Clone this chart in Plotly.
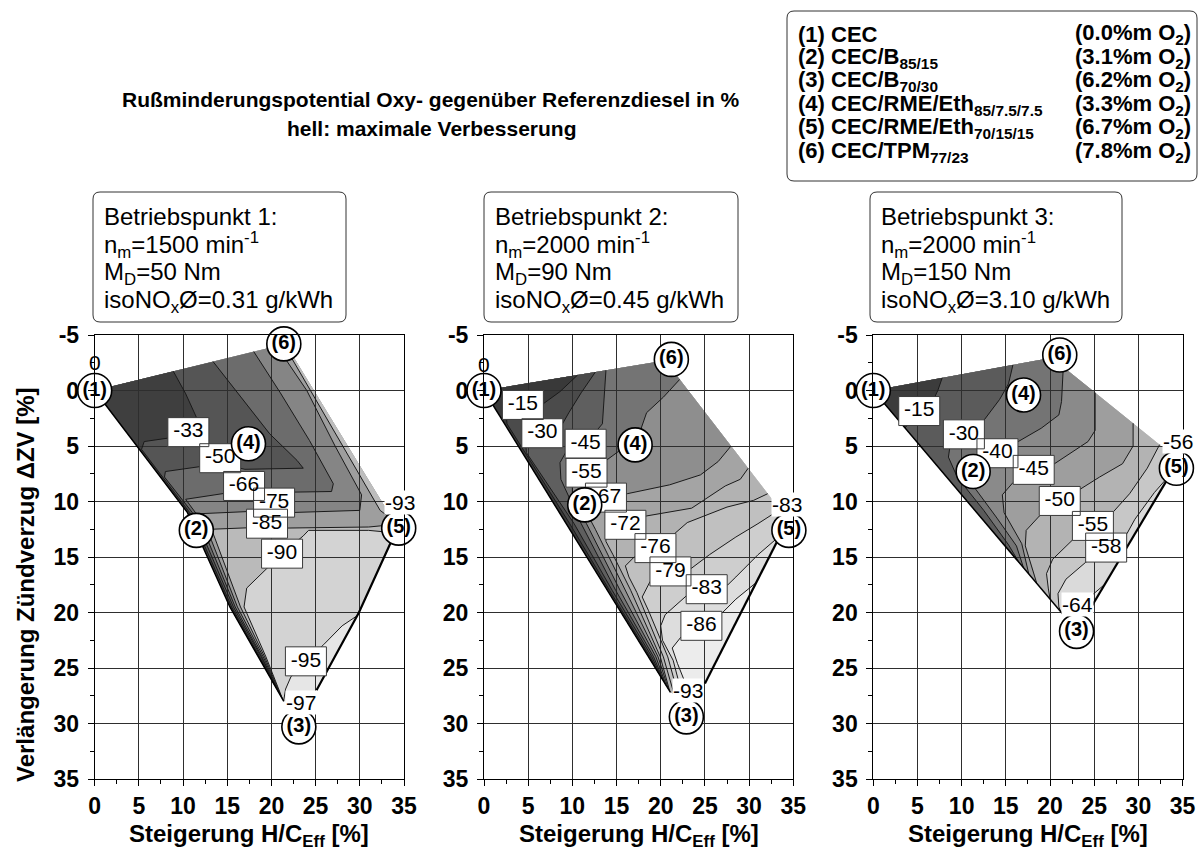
import plotly.graph_objects as go

W, H = 1201, 851
FONT = "Liberation Sans, Arial, Helvetica, sans-serif"

# ---------------------------------------------------------------
# data
# x = Steigerung H/C_Eff [%], y = Verlängerung Zündverzug dZV [%]
# outlines start at fuel (1), go over (6), (5), (3) and back
# contour lines run from the upper/right border to the left border
# ---------------------------------------------------------------

# Betriebspunkt 1
bp1_edge = [(0, 0), (21.6, -4.2), (33.4, 11.2), (34.3, 12.3), (29.9, 20.0), (25.1, 27.0),
            (23.3, 28.5), (21.4, 28.0), (15.3, 19.5), (10.5, 11.0)]
bp1_m95 = [(29.7, 20.29), (28.0, 21.2), (25.9, 22.9), (23.9, 24.4), (22.2, 25.8), (21.6, 26.9), (21.38, 27.97)]
bp1_m90 = [(34.0, 12.83), (31.0, 12.6), (24.2, 12.6), (23.6, 13.1), (21.2, 14.7), (19.8, 15.8), (17.2, 17.8),
           (16.9, 19.5), (19.38, 24.0), (21.28, 27.83)]
bp1_m85 = [(34.1, 12.06), (31.0, 12.3), (21.0, 12.4), (19.5, 12.3), (13.2, 12.5), (13.6, 13.3), (16.5, 19.5),
           (19.23, 24.0), (21.15, 27.65)]
bp1_m75 = [(20.6, -4.0), (24.0, 0.0), (27.2, 5.0), (30.2, 9.4), (30.0, 10.8), (22.0, 11.0), (20.3, 10.8),
           (11.9, 11.1), (13.21, 13.5), (16.15, 19.5), (19.08, 24.0), (21.0, 27.44)]
bp1_m66 = [(18.0, -3.5), (21.0, 0.2), (24.3, 4.5), (27.0, 8.4), (26.8, 9.1), (19.0, 9.2), (16.9, 9.0),
           (10.3, 9.8), (10.75, 10.3), (11.4, 11.0), (12.81, 13.5), (15.9, 19.5), (18.93, 24.0), (20.8, 27.16)]
bp1_m50 = [(13.4, -2.6), (16.6, 0.6), (19.8, 3.9), (22.9, 6.3), (23.6, 7.0), (17.0, 7.1), (14.2, 6.6),
           (8.0, 7.3), (7.9, 7.8), (11.05, 11.0), (12.46, 13.5), (15.7, 19.5), (18.83, 24.0), (20.6, 26.89)]
bp1_m33 = [(8.9, -1.73), (10.3, 0.3), (11.5, 2.4), (11.0, 4.0), (8.2, 4.3), (5.6, 4.6), (5.3, 5.3),
           (10.75, 11.0), (12.16, 13.5), (15.5, 19.5), (18.68, 24.0), (20.4, 26.61)]
bp1_m93 = [(21.3, -4.14), (22.3, -2.9), (32.3, 10.8), (33.8, 11.7)]   # light strip along the right border
bp1_lab_txt = ["-33", "-50", "-66", "-75", "-85", "-90", "-95"]
bp1_lab_x = [10.6, 14.2, 16.9, 20.3, 19.5, 21.2, 23.9]
bp1_lab_y = [3.75, 6.1, 8.6, 10.1, 12.0, 14.7, 24.4]
bp1_end_txt = ["-93", "-97", "0"]
bp1_end_x = [34.5, 23.35, 0.0]
bp1_end_y = [10.1, 28.1, -2.5]
bp1_pt_x = [0, 11.5, 23.1, 17.4, 34.4, 21.4]
bp1_pt_y = [0, 12.6, 30.3, 4.8, 12.4, -4.2]

# Betriebspunkt 2
bp2_edge = [(0, 0), (20.5, -2.7), (32.6, 9.8), (34.0, 12.3), (25.0, 26.4), (23.0, 27.8), (21.1, 27.2)]
bp2_m86 = [(30.8, 17.31), (28.5, 18.8), (27.0, 20.0), (24.6, 21.2), (22.3, 22.2), (21.3, 23.2), (21.9, 24.6),
           (22.8, 26.4), (23.5, 27.45)]
bp2_m83 = [(33.5, 13.08), (31.0, 14.8), (28.5, 16.8), (27.6, 17.5), (25.2, 17.9), (22.9, 18.5), (20.5, 20.2),
           (20.0, 21.2), (20.2, 22.5), (21.4, 24.3), (22.5, 27.64)]
bp2_m79 = [(33.2, 10.87), (31.0, 12.0), (28.5, 13.2), (25.5, 14.8), (23.5, 16.0), (21.1, 16.3), (18.8, 17.2),
           (17.9, 18.6), (18.6, 19.8), (20.8, 24.0), (22.0, 27.49)]
bp2_m76 = [(32.1, 9.3), (30.5, 9.9), (27.5, 10.5), (23.0, 11.9), (21.7, 12.8), (19.4, 14.2), (17.0, 15.0),
           (16.0, 15.8), (16.4, 16.8), (17.3, 18.2), (20.3, 24.0), (21.5, 27.33)]
bp2_m72 = [(29.9, 7.0), (29.0, 8.0), (27.3, 8.6), (23.5, 10.6), (18.4, 11.3), (16.0, 12.1), (13.8, 12.6),
           (13.8, 13.6), (14.6, 14.8), (16.6, 18.0), (19.95, 24.0), (21.02, 27.1)]
bp2_m67 = [(27.95, 5.0), (26.5, 6.4), (24.5, 7.6), (21.0, 8.5), (16.2, 9.3), (13.8, 9.65), (11.6, 10.2),
           (11.6, 11.0), (12.6, 12.5), (16.0, 18.0), (19.7, 24.0), (20.87, 26.9)]
bp2_m55 = [(22.15, -1.0), (20.3, 0.6), (18.4, 2.0), (17.7, 3.6), (16.6, 5.0), (15.2, 5.5), (14.0, 6.2),
           (11.6, 7.4), (10.0, 8.4), (10.0, 9.6), (11.6, 12.0), (15.4, 18.0), (19.45, 24.0), (20.63, 26.6)]
bp2_m45 = [(13.8, -1.82), (13.6, 0.5), (13.4, 3.0), (11.5, 4.8), (9.3, 5.5), (8.6, 6.5), (8.7, 8.0),
           (11.0, 12.0), (14.9, 18.0), (19.2, 24.0), (20.4, 26.3)]
bp2_m30 = [(12.6, -1.66), (11.0, 0.2), (9.6, 2.0), (8.6, 3.4), (6.6, 3.85), (4.7, 4.6), (4.8, 5.6),
           (10.2, 12.0), (14.5, 18.0), (19.0, 24.0), (20.17, 26.0)]
bp2_m15 = [(10.6, -1.4), (8.6, 0.1), (6.7, 1.2), (4.4, 1.3), (2.5, 2.0), (2.6, 3.0), (9.7, 12.0),
           (14.2, 18.0), (18.8, 24.0), (19.78, 25.5)]
bp2_lab_txt = ["-15", "-30", "-45", "-55", "-67", "-72", "-76", "-79", "-83", "-86"]
bp2_lab_x = [4.4, 6.6, 11.5, 11.6, 13.8, 16.0, 19.4, 21.1, 25.2, 24.6]
bp2_lab_y = [1.3, 3.85, 4.8, 7.4, 9.65, 12.1, 14.2, 16.3, 17.9, 21.2]
bp2_end_txt = ["-83", "-93", "0"]
bp2_end_x = [34.3, 23.1, 0.0]
bp2_end_y = [10.3, 27.0, -2.3]
bp2_pt_x = [0, 11.4, 22.9, 17.1, 34.5, 21.2]
bp2_pt_y = [0, 10.3, 29.4, 4.9, 12.6, -2.8]

# Betriebspunkt 3
bp3_edge = [(0, 0), (20.2, -2.95), (32.9, 5.2), (34.1, 6.9), (24.6, 19.6), (23.0, 20.4), (21.5, 20.2)]
bp3_m64 = [(26.2, 17.46), (24.8, 18.4), (23.1, 19.25), (22.2, 20.29)]
bp3_m58 = [(33.6, 7.57), (31.8, 9.2), (29.6, 11.6), (28.7, 12.9), (26.35, 14.15), (24.0, 15.5), (21.8, 17.0),
           (20.9, 18.3), (21.0, 19.5), (21.2, 19.92)]
bp3_m55 = [(32.4, 4.88), (31.0, 7.0), (29.0, 9.3), (27.2, 10.9), (24.85, 12.2), (22.5, 13.5), (20.3, 15.2),
           (19.6, 16.5), (19.8, 17.8), (20.0, 18.79)]
bp3_m50 = [(29.4, 2.95), (29.4, 5.0), (28.2, 6.6), (25.6, 7.8), (23.4, 8.9), (21.1, 9.95), (18.8, 11.3),
           (17.3, 12.6), (17.2, 14.0), (18.1, 16.2), (18.5, 17.38)]
bp3_m45 = [(25.1, 0.19), (25.1, 3.6), (24.3, 4.6), (22.0, 5.8), (20.5, 6.6), (18.15, 7.15), (15.8, 8.3),
           (14.6, 9.4), (14.8, 11.0), (16.8, 13.8), (17.6, 16.54)]
bp3_m40 = [(21.5, -2.12), (21.3, 1.0), (21.0, 2.2), (19.0, 3.4), (16.4, 4.6), (14.05, 5.65), (12.2, 6.5),
           (11.0, 7.6), (11.5, 8.8), (14.0, 11.5), (16.2, 14.0), (17.0, 15.97)]
bp3_m30 = [(15.8, -2.31), (15.3, -0.6), (14.3, 0.8), (12.5, 2.7), (10.25, 3.95), (8.7, 4.9), (8.5, 6.0),
           (9.5, 7.8), (12.5, 10.8), (15.3, 13.9), (16.5, 15.5)]
bp3_m15 = [(7.8, -1.14), (7.3, 0.0), (6.6, 1.2), (5.2, 1.85), (4.3, 2.6), (3.6, 3.38)]
bp3_lab_txt = ["-15", "-30", "-40", "-45", "-50", "-55", "-58"]
bp3_lab_x = [5.2, 10.25, 14.05, 18.15, 21.1, 24.85, 26.35]
bp3_lab_y = [1.85, 3.95, 5.65, 7.15, 9.95, 12.2, 14.15]
bp3_end_txt = ["-56", "-64", "0"]
bp3_end_x = [34.5, 23.1, -0.1]
bp3_end_y = [4.6, 19.25, -2.15]
bp3_pt_x = [0, 11.3, 23.0, 17.0, 34.3, 21.1]
bp3_pt_y = [0, 7.3, 21.7, 0.4, 7.0, -3.2]

# axis ticks
x_ticks = [0, 5, 10, 15, 20, 25, 30, 35]
y_ticks = [-5, 0, 5, 10, 15, 20, 25, 30, 35]
y_ticktext = ["-5", "0", "5", "10", "15", "20", "25", "30", "35"]

# texts
fuel_names = ["(1) CEC", "(2) CEC/B<sub>85/15</sub>", "(3) CEC/B<sub>70/30</sub>",
              "(4) CEC/RME/Eth<sub>85/7.5/7.5</sub>", "(5) CEC/RME/Eth<sub>70/15/15</sub>",
              "(6) CEC/TPM<sub>77/23</sub>"]
fuel_o2 = ["0.0", "3.1", "6.2", "3.3", "6.7", "7.8"]
bp_speed = [1500, 2000, 2000]
bp_torque = [50, 90, 150]
bp_nox = ["0.31", "0.45", "3.10"]
pt_txt = ["(1)", "(2)", "(3)", "(4)", "(5)", "(6)"]

# grey shades, lightest first (base, then darker bands)
bp1_shades = ["#e6e6e6", "#d3d3d3", "#bababa", "#9e9e9e", "#858585", "#6c6c6c", "#555555", "#3f3f3f"]
bp2_shades = ["#ececec", "#dddddd", "#cecece", "#c0c0c0", "#b2b2b2", "#a4a4a4", "#8e8e8e", "#747474",
              "#5f5f5f", "#4b4b4b", "#393939"]
bp3_shades = ["#e9e9e9", "#dadada", "#c7c7c7", "#b3b3b3", "#9e9e9e", "#8a8a8a", "#747474", "#5b5b5b", "#3c3c3c"]


def seg_index(ring, p):
    # index of the outline segment closest to p
    best, bi = 1e9, 0
    n = len(ring)
    for i in range(n):
        a, b = ring[i], ring[(i + 1) % n]
        dx, dy = b[0] - a[0], b[1] - a[1]
        t = ((p[0] - a[0]) * dx + (p[1] - a[1]) * dy) / (dx * dx + dy * dy)
        t = max(0.0, min(1.0, t))
        d = (a[0] + t * dx - p[0]) ** 2 + (a[1] + t * dy - p[1]) ** 2
        if d < best:
            best, bi = d, i
    return bi


def dark_side(ring, line):
    # area enclosed by the contour line and the outline through point (1)
    ia, ib = seg_index(ring, line[0]), seg_index(ring, line[-1])
    return list(line) + ring[ib + 1:] + ring[:ia + 1]


def far_side(ring, line):
    ia, ib = seg_index(ring, line[0]), seg_index(ring, line[-1])
    return list(line) + ring[ia + 1:ib + 1][::-1]


def svg_path(pts):
    return "M " + " L ".join(f"{x},{y}" for x, y in pts) + " Z"


def rbox(x0, y0, x1, y1, r=7):
    # rounded box given in pixels -> paper path
    a, c = x0 / W, x1 / W
    b, d = 1 - y0 / H, 1 - y1 / H
    rx, ry = r / W, r / H
    return (f"M {a+rx},{b} L {c-rx},{b} Q {c},{b} {c},{b-ry} L {c},{d+ry} Q {c},{d} {c-rx},{d} "
            f"L {a+rx},{d} Q {a},{d} {a},{d+ry} L {a},{b-ry} Q {a},{b} {a+rx},{b} Z")


panels = [
    dict(edge=bp1_edge, lines=[bp1_m95, bp1_m90, bp1_m85, bp1_m75, bp1_m66, bp1_m50, bp1_m33],
         shades=bp1_shades, strip=bp1_m93, strip_fill="#bdbdbd",
         left=bp1_edge[7:] + bp1_edge[:1], br=bp1_edge[3:6],
         lab=(bp1_lab_txt, bp1_lab_x, bp1_lab_y), end=(bp1_end_txt, bp1_end_x, bp1_end_y),
         pts=(bp1_pt_x, bp1_pt_y)),
    dict(edge=bp2_edge, lines=[bp2_m86, bp2_m83, bp2_m79, bp2_m76, bp2_m72, bp2_m67, bp2_m55, bp2_m45,
                               bp2_m30, bp2_m15],
         shades=bp2_shades, strip=None, strip_fill=None,
         left=bp2_edge[6:] + bp2_edge[:1], br=bp2_edge[3:5],
         lab=(bp2_lab_txt, bp2_lab_x, bp2_lab_y), end=(bp2_end_txt, bp2_end_x, bp2_end_y),
         pts=(bp2_pt_x, bp2_pt_y)),
    dict(edge=bp3_edge, lines=[bp3_m64, bp3_m58, bp3_m55, bp3_m50, bp3_m45, bp3_m40, bp3_m30, bp3_m15],
         shades=bp3_shades, strip=None, strip_fill=None,
         left=bp3_edge[6:] + bp3_edge[:1], br=bp3_edge[3:5],
         lab=(bp3_lab_txt, bp3_lab_x, bp3_lab_y), end=(bp3_end_txt, bp3_end_x, bp3_end_y),
         pts=(bp3_pt_x, bp3_pt_y)),
]

# pixel placement of the three plot areas
x_px = [(94.7, 404.0), (484.0, 793.3), (873.3, 1182.6)]
y_px = (335.0, 779.0)
box_px = [(93, 346), (484, 738), (870, 1122)]

fig = go.Figure()
shapes, anns = [], []

tickfont = dict(family=FONT, size=23, color="black", weight="bold")
axis_common = dict(showgrid=True, gridcolor="#2e2e2e", gridwidth=1,
                   showline=True, linecolor="black", linewidth=1, mirror=True,
                   ticks="outside", ticklen=6, tickcolor="black", tickfont=tickfont,
                   minor=dict(tickmode="linear", tick0=0, dtick=2.5, ticks="outside", ticklen=4,
                              tickcolor="black", showgrid=False),
                   zeroline=False, fixedrange=True, automargin=False)
axes = {}

for i, P in enumerate(panels):
    sfx = "" if i == 0 else str(i + 1)
    xr, yr = "x" + sfx, "y" + sfx
    axes["xaxis" + sfx] = dict(domain=[x_px[i][0] / W, x_px[i][1] / W], anchor=yr, range=[0, 35],
                               tickmode="array", tickvals=x_ticks, **axis_common)
    axes["yaxis" + sfx] = dict(domain=[1 - y_px[1] / H, 1 - y_px[0] / H], anchor=xr, range=[35, -5],
                               tickmode="array", tickvals=y_ticks, ticktext=y_ticktext,
                               ticklabelstandoff=4, **axis_common)
    # pixels per data unit, for the label boxes
    ux = (x_px[i][1] - x_px[i][0]) / 35.0
    uy = (y_px[1] - y_px[0]) / 40.0

    edge = P["edge"]
    polys = [(edge, P["shades"][0])]
    for line, col in zip(P["lines"], P["shades"][1:]):
        polys.append((dark_side(edge, line), col))
    if P["strip"]:
        polys.append((far_side(edge, P["strip"]), P["strip_fill"]))
    for poly, col in polys:
        shapes.append(dict(type="path", path=svg_path(poly), xref=xr, yref=yr, fillcolor=col,
                           line=dict(width=0), layer="below"))

    # contour lines
    all_lines = P["lines"] + ([P["strip"]] if P["strip"] else [])
    for line in all_lines:
        fig.add_trace(go.Scatter(x=[p[0] for p in line], y=[p[1] for p in line], mode="lines",
                                 line=dict(color="#1a1a1a", width=1), xaxis=xr, yaxis=yr,
                                 hoverinfo="skip"))
    # outline borders
    fig.add_trace(go.Scatter(x=[p[0] for p in P["left"]], y=[p[1] for p in P["left"]], mode="lines",
                             line=dict(color="black", width=1.5), xaxis=xr, yaxis=yr, hoverinfo="skip"))
    fig.add_trace(go.Scatter(x=[p[0] for p in P["br"]], y=[p[1] for p in P["br"]], mode="lines",
                             line=dict(color="black", width=2.2), xaxis=xr, yaxis=yr, hoverinfo="skip"))

    # contour labels: white framed boxes under the fuel markers
    t, lx, ly = P["lab"]
    hx, hy = 20.5 / ux, 14.5 / uy
    bx, by = [], []
    for x, y in zip(lx, ly):
        bx += [x - hx, x + hx, x + hx, x - hx, x - hx, None]
        by += [y - hy, y - hy, y + hy, y + hy, y - hy, None]
    fig.add_trace(go.Scatter(x=bx, y=by, mode="lines", fill="toself", fillcolor="white",
                             line=dict(color="#3a3a3a", width=1), xaxis=xr, yaxis=yr, hoverinfo="skip"))
    fig.add_trace(go.Scatter(x=lx, y=ly, mode="text", text=t, textposition="middle center",
                             textfont=dict(family=FONT, size=21, color="black"),
                             cliponaxis=False, xaxis=xr, yaxis=yr, hoverinfo="skip"))

    # labels at the corners of the field
    t, lx, ly = P["end"]
    for s, x, y in zip(t, lx, ly):
        anns.append(dict(xref=xr, yref=yr, x=x, y=y, text=s, showarrow=False,
                         font=dict(family=FONT, size=21, color="black"),
                         bgcolor="white" if s != "0" else "rgba(0,0,0,0)", borderpad=0))

    # fuel markers
    px_, py_ = P["pts"]
    fig.add_trace(go.Scatter(x=px_, y=py_, mode="markers+text", text=pt_txt, textposition="middle center",
                             textfont=dict(family=FONT, size=20, color="black", weight="bold"),
                             marker=dict(size=34, color="white", line=dict(color="black", width=1.6)),
                             cliponaxis=False, xaxis=xr, yaxis=yr, hoverinfo="skip"))

    # operating point box
    bx0, bx1 = box_px[i]
    shapes.append(dict(type="path", path=rbox(bx0, 192, bx1, 322), xref="paper", yref="paper",
                       line=dict(color="#333333", width=1), fillcolor="white"))
    lines_txt = [f"Betriebspunkt {i+1}:", f"n<sub>m</sub>={bp_speed[i]} min<sup>-1</sup>",
                 f"M<sub>D</sub>={bp_torque[i]} Nm", f"isoNO<sub>x</sub>Ø={bp_nox[i]} g/kWh"]
    for k, s in enumerate(lines_txt):
        anns.append(dict(xref="paper", yref="paper", x=(bx0 + 9) / W, y=1 - (217 + 28 * k) / H,
                         xanchor="left", yanchor="middle", text=s, showarrow=False,
                         font=dict(family=FONT, size=24, color="black")))

    # x axis title
    anns.append(dict(xref="paper", yref="paper", x=(x_px[i][0] + x_px[i][1]) / 2 / W, y=1 - 835 / H,
                     xanchor="center", yanchor="middle", showarrow=False,
                     text="Steigerung H/C<sub>Eff</sub> [%]",
                     font=dict(family=FONT, size=24, color="black", weight="bold")))

# y axis title
anns.append(dict(xref="paper", yref="paper", x=25 / W, y=1 - 585 / H, textangle=-90,
                 xanchor="center", yanchor="middle", showarrow=False,
                 text="Verlängerung Zündverzug ΔZV [%]",
                 font=dict(family=FONT, size=24, color="black", weight="bold")))

# title
anns.append(dict(xref="paper", yref="paper", x=431 / W, y=1 - 100 / H, xanchor="center", yanchor="middle",
                 showarrow=False, text="Rußminderungspotential Oxy- gegenüber Referenzdiesel in %",
                 font=dict(family=FONT, size=21, color="black", weight="bold")))
anns.append(dict(xref="paper", yref="paper", x=431 / W, y=1 - 128 / H, xanchor="center", yanchor="middle",
                 showarrow=False, text="hell: maximale Verbesserung",
                 font=dict(family=FONT, size=21, color="black", weight="bold")))

# fuel legend box
shapes.append(dict(type="path", path=rbox(787, 11, 1197, 181), xref="paper", yref="paper",
                   line=dict(color="#333333", width=1), fillcolor="white"))
for k in range(6):
    yy = 1 - (34 + 23.6 * k) / H
    anns.append(dict(xref="paper", yref="paper", x=796 / W, y=yy, xanchor="left", yanchor="middle",
                     showarrow=False, text=fuel_names[k],
                     font=dict(family=FONT, size=22, color="black", weight="bold")))
    anns.append(dict(xref="paper", yref="paper", x=1193 / W, y=yy, xanchor="right", yanchor="middle",
                     showarrow=False, text=f"({fuel_o2[k]}%m O<sub>2</sub>)",
                     font=dict(family=FONT, size=22, color="black", weight="bold")))

fig.update_layout(width=W, height=H, margin=dict(l=0, r=0, t=0, b=0),
                  paper_bgcolor="white", plot_bgcolor="white", showlegend=False,
                  shapes=shapes, annotations=anns, hovermode=False, **axes)

fig.write_html("out.html", config={"displayModeBar": False},
               post_script="document.body.style.margin='0';")
